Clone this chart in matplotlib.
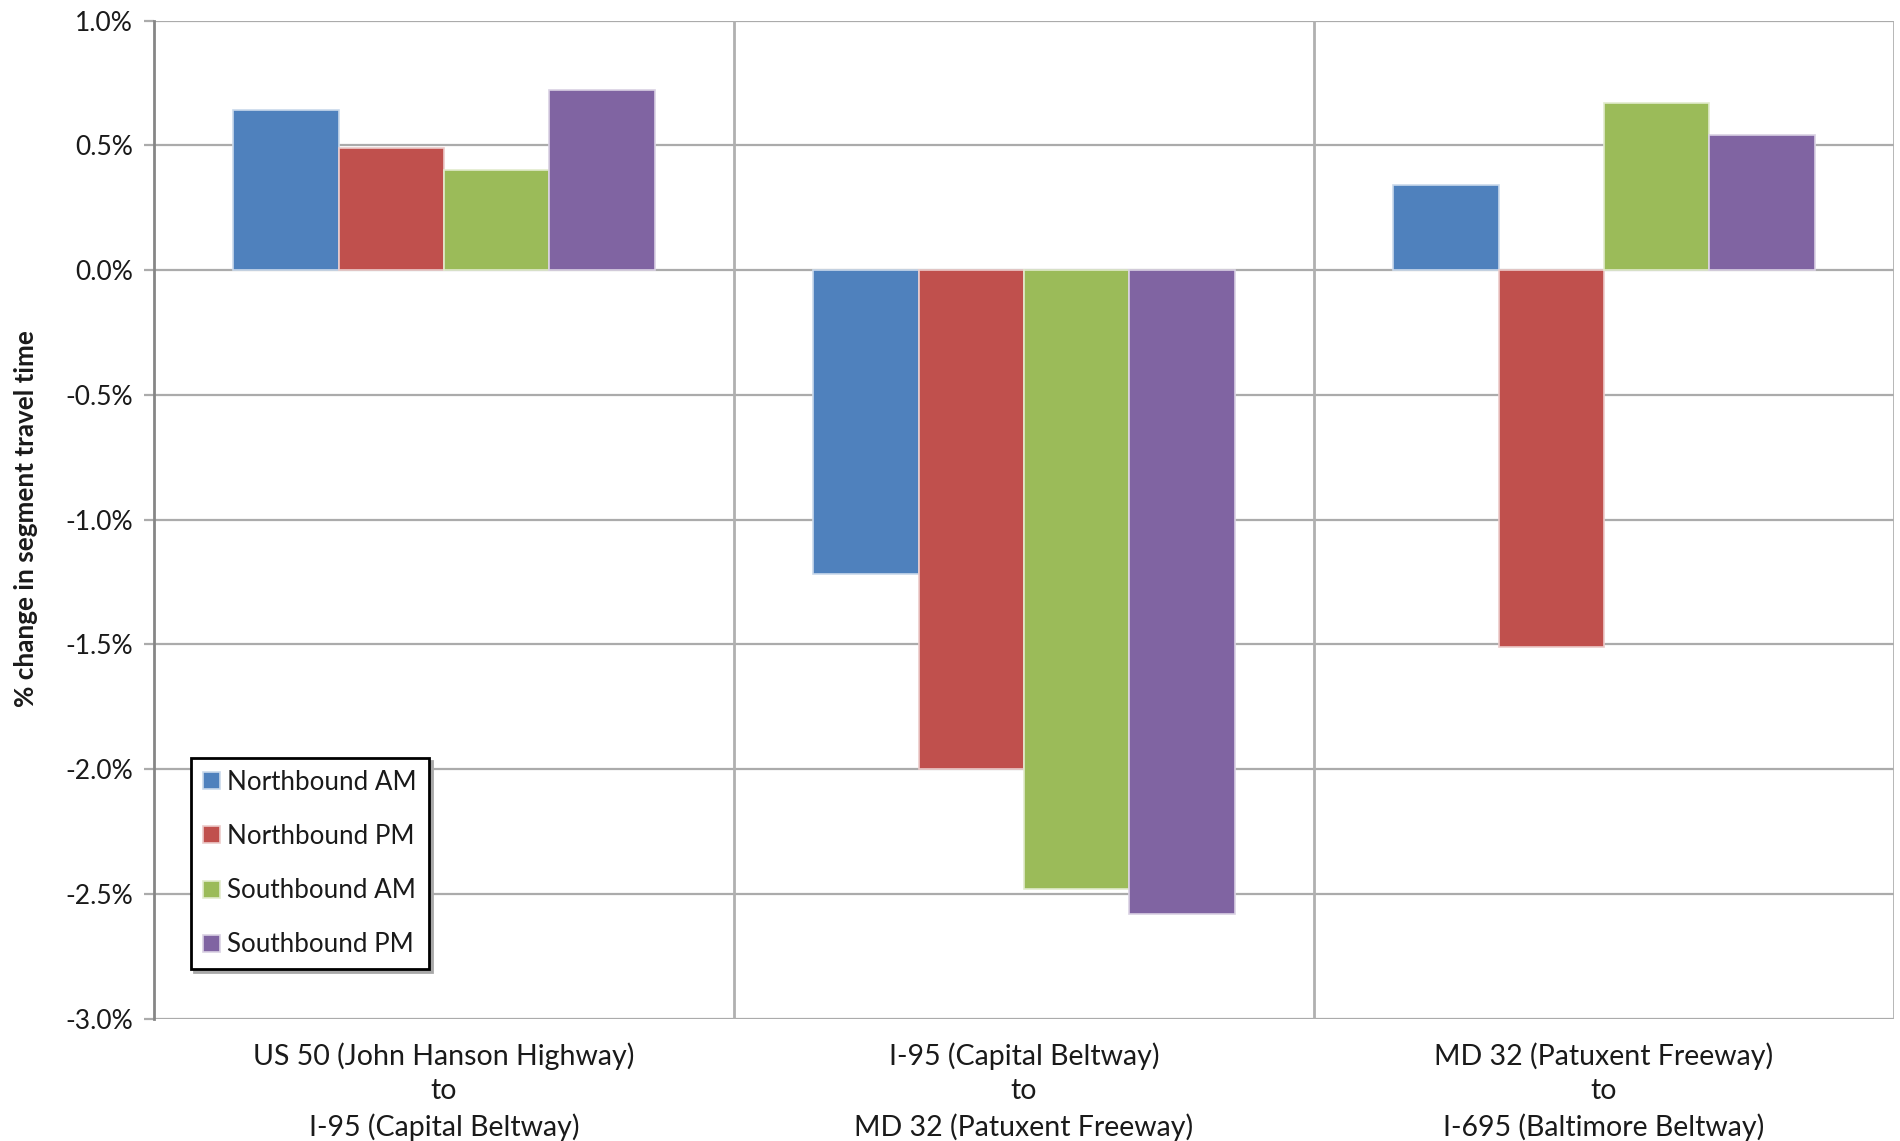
import matplotlib
matplotlib.use("Agg")
import matplotlib.pyplot as plt
import numpy as np
from matplotlib.ticker import FuncFormatter

plt.rcParams['font.family'] = ['Lato', 'DejaVu Sans']

# Segments along the corridor
segments = [
    "US 50 (John Hanson Highway)\nto\nI-95 (Capital Beltway)",
    "I-95 (Capital Beltway)\nto\nMD 32 (Patuxent Freeway)",
    "MD 32 (Patuxent Freeway)\nto\nI-695 (Baltimore Beltway)",
]

# % change in segment travel time per direction / peak period
northbound_am = [0.64, -1.22, 0.34]
northbound_pm = [0.49, -2.00, -1.51]
southbound_am = [0.40, -2.48, 0.67]
southbound_pm = [0.72, -2.58, 0.54]

series_names = ["Northbound AM", "Northbound PM", "Southbound AM", "Southbound PM"]
series_values = [northbound_am, northbound_pm, southbound_am, southbound_pm]
series_colors = ["#4F81BD", "#C0504D", "#9BBB59", "#8064A2"]

y_ticks = [-3.0, -2.5, -2.0, -1.5, -1.0, -0.5, 0.0, 0.5, 1.0]

W, H = 1900, 1141
fig = plt.figure(figsize=(W / 100, H / 100), dpi=100)
ax = fig.add_axes([154 / W, 1 - 1018.6 / H, 1740 / W, 998 / H])

grid_color = "#ABABAB"
for yv in y_ticks:
    ax.axhline(yv, color=grid_color, lw=1.6, zorder=1)
for xv in [0.5, 1.5, 2.5]:
    ax.axvline(xv, color="#B0B0B0", lw=2.0, zorder=1)

n = len(series_values)
bar_w = 1.0 / (n + 1.5)
x = np.arange(len(segments))


def tint(hex_color, amount):
    rgb = np.array(matplotlib.colors.to_rgb(hex_color))
    return tuple(rgb * (1 - amount) + amount)


for i, (name, vals, col) in enumerate(zip(series_names, series_values, series_colors)):
    offs = (i - (n - 1) / 2) * bar_w
    ax.bar(x + offs, vals, width=bar_w, color=col, edgecolor=tint(col, 0.7),
           linewidth=1.2, label=name, zorder=3)

ax.set_xlim(-0.5, 2.5)
ax.set_ylim(-3.0, 1.0)
ax.set_yticks(y_ticks)
ax.yaxis.set_major_formatter(FuncFormatter(lambda v, p: f"{v:.1f}%"))
ax.set_xticks(x)
ax.set_xticklabels(segments, linespacing=1.4)

for side in ["top", "right", "bottom"]:
    ax.spines[side].set_visible(False)
ax.spines["left"].set_color("#868686")
ax.spines["left"].set_linewidth(2.0)
ax.spines["left"].set_zorder(4)

ax.tick_params(axis="y", length=7, width=1.6, color=grid_color, pad=8,
               labelsize=19, labelcolor="#1a1a1a")
ax.tick_params(axis="x", length=0, pad=17, labelsize=20.5, labelcolor="#1a1a1a")

fig.text(26 / W, 1 - 519 / H, "% change in segment travel time", rotation=90,
         ha="center", va="center", fontsize=18.8, fontweight="bold", color="#1a1a1a")

leg = ax.legend(loc="lower left", bbox_to_anchor=(0.0213, 0.0497), borderaxespad=0,
                fontsize=18.7, frameon=True, fancybox=False, edgecolor="black",
                handlelength=0.65, handleheight=0.63, handletextpad=0.3,
                labelspacing=1.12, borderpad=0.45,
                shadow={"color": "#A8A8A8", "alpha": 1})
leg.get_frame().set_linewidth(2.0)
for t in leg.get_texts():
    t.set_color("#1a1a1a")
leg.set_zorder(5)

fig.savefig("out.png", dpi=100, facecolor="white")
